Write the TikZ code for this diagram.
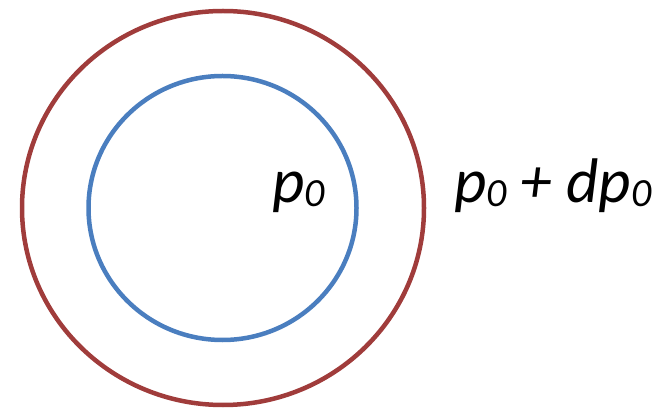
\documentclass[tikz,border=0pt]{standalone}
\usepackage{fontspec}
\setmainfont{Carlito}
\definecolor{ringred}{HTML}{A03C3B}
\definecolor{ringblue}{HTML}{4A7EBF}
\newcommand{\zsub}{\raisebox{-4pt}{\fontsize{40}{40}\selectfont 0}}
\begin{document}
\begin{tikzpicture}[x=1pt,y=-1pt,
  ring/.style={line width=4.5pt},
  lbl/.style={inner sep=0pt,anchor=base west,font=\fontsize{63}{63}\selectfont\itshape}]
\useasboundingbox (0,0) rectangle (666,411);
\draw[ring,ringred] (223,208) ellipse [x radius=201, y radius=197];
\draw[ring,ringblue] (222.5,208) ellipse [x radius=134, y radius=132];
\node[lbl] (inner) at (272,203) {p\zsub};
\node[lbl] (outer) at (454,203) {p\zsub\hspace{14pt}+\hspace{14pt}dp\zsub};
\end{tikzpicture}
\end{document}
